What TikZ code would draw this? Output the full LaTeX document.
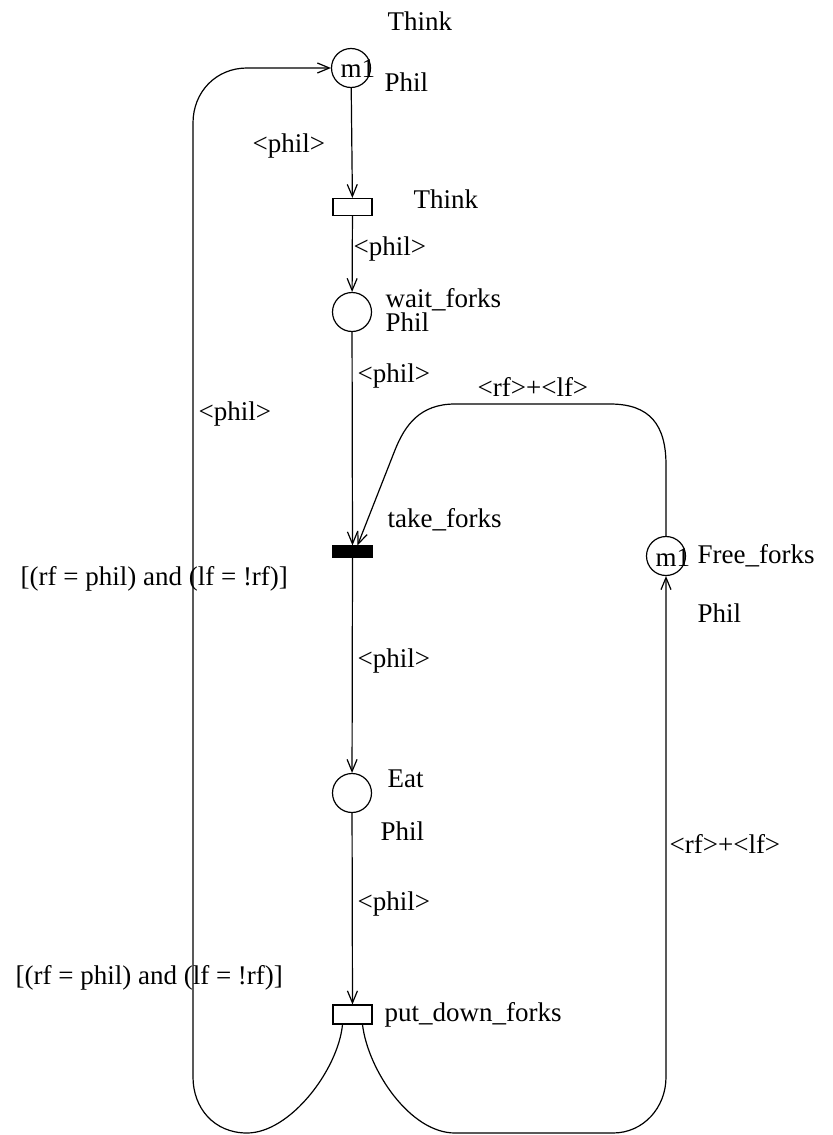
\documentclass[tikz,border=0pt]{standalone}
\usepackage{fontspec}
\setmainfont{Liberation Serif}
\usetikzlibrary{arrows.meta}
\begin{document}
\begin{tikzpicture}[x=0.5pt,y=-0.5pt,line width=0.6pt,
  place/.style={circle,draw,minimum size=19.5pt,inner sep=0pt},
  trans/.style={rectangle,draw,minimum width=19.5pt,inner sep=0pt},
  lbl/.style={anchor=base west,inner sep=0pt,font=\fontsize{13.5}{16}\selectfont},
  arc/.style={-{Straight Barb[length=6pt,width=5pt]}}]
\useasboundingbox (0,0) rectangle (832,1135);
% places and transitions
\node[place] (think) at (351,68) {};
\node[trans,minimum height=8.5pt] (thinkT) at (352.5,207) {};
\node[place] (wait) at (352,312) {};
\node[trans,minimum height=5.5pt,fill=black] (take) at (352.5,551.5) {};
\node[place] (eat) at (352,793) {};
\node[trans,minimum height=9.5pt] (put) at (352.5,1014.5) {};
\node[place] (free) at (666,556) {};
% markings
\node[lbl] (m1a) at (340,77) {m1};
\node[lbl] (m1b) at (655,566) {m1};
% labels
\node[lbl] (lThink) at (387,31) {Think};
\node[lbl] (lPhil1) at (384,91) {Phil};
\node[lbl] (lArc1) at (252,152) {<phil>};
\node[lbl] (lThinkT) at (413,208) {Think};
\node[lbl] (lArc2) at (353,255) {<phil>};
\node[lbl] (lWait) at (385,307) {wait\_forks};
\node[lbl] (lPhil2) at (385,331) {Phil};
\node[lbl] (lArc3) at (357,382) {<phil>};
\node[lbl] (lArc4) at (198,420) {<phil>};
\node[lbl] (lArc5) at (477,396) {<rf>+<lf>};
\node[lbl] (lTake) at (387,527) {take\_forks};
\node[lbl] (lGuard1) at (20,585) {[(rf = phil) and (lf = !rf)]};
\node[lbl] (lFree) at (697,563) {Free\_forks};
\node[lbl] (lPhil3) at (697,622) {Phil};
\node[lbl] (lArc6) at (357,667) {<phil>};
\node[lbl] (lEat) at (387,787) {Eat};
\node[lbl] (lPhil4) at (380,840) {Phil};
\node[lbl] (lArc7) at (357,910) {<phil>};
\node[lbl] (lArc8) at (669,853) {<rf>+<lf>};
\node[lbl] (lGuard2) at (15,984) {[(rf = phil) and (lf = !rf)]};
\node[lbl] (lPut) at (384,1021) {put\_down\_forks};
% arcs
\draw[arc] (think) -- (thinkT);
\draw[arc] (thinkT) -- (wait);
\draw[arc] (wait) -- (take);
\draw[arc] (take) -- (eat);
\draw[arc] (eat) -- (put);
\draw[arc] (free.north) -- (666,465) .. controls (666,425) and (650,404) .. (610,404)
  -- (455,404) .. controls (420,404) and (405,425) .. (395,450) -- ([xshift=2.5pt]take.north);
\draw[arc] ([xshift=-5pt]put.south) .. controls (338,1070) and (290,1133) .. (247,1133)
  .. controls (214,1133) and (193,1108) .. (193,1077) -- (193,123)
  .. controls (193,92) and (216,68) .. (247,68) -- (think.west);
\draw[arc] ([xshift=5pt]put.south) .. controls (368,1070) and (410,1133) .. (455,1133)
  -- (613,1133) .. controls (643,1133) and (666,1108) .. (666,1077) -- (free.south);
\end{tikzpicture}
\end{document}
